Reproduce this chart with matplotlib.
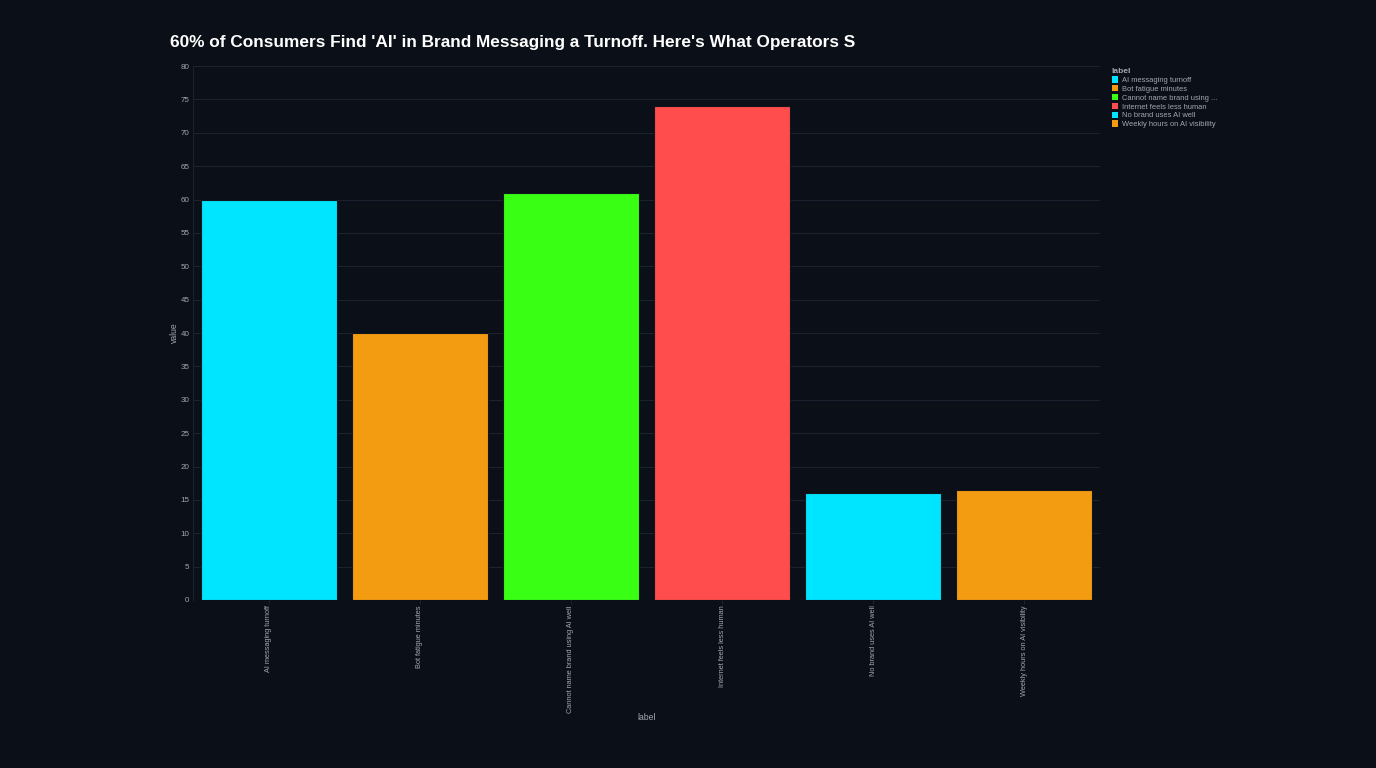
import matplotlib.pyplot as plt
from matplotlib.patches import Patch

plt.rcParams['font.family'] = ['Liberation Sans', 'DejaVu Sans']

labels = ["AI messaging turnoff", "Bot fatigue minutes", "Cannot name brand using AI well",
          "Internet feels less human", "No brand uses AI well", "Weekly hours on AI visibility"]
legend_labels = ["AI messaging turnoff", "Bot fatigue minutes", "Cannot name brand using ...",
                 "Internet feels less human", "No brand uses AI well", "Weekly hours on AI visibility"]
values = [60, 40, 61, 74, 16, 16.5]
colors = ["#00e5ff", "#f39c12", "#39ff14", "#ff4d4d", "#00e5ff", "#f39c12"]

BG = "#0b0f17"
GRID = "#1c2230"
TXT = "#a3a7b0"

fig = plt.figure(figsize=(13.76, 7.68), dpi=100, facecolor=BG)
ax = fig.add_axes([0.1403, 0.21875, 0.6591, 0.6953])
ax.set_facecolor(BG)

x = range(len(labels))
ax.bar(x, values, width=0.9, color=colors, edgecolor="#11151d", linewidth=0.8, zorder=3)

ax.set_xlim(-0.5, len(labels) - 0.5)
ax.set_ylim(0, 80)
ax.set_yticks(range(0, 81, 5))
ax.set_xticks(list(x))
ax.set_xticklabels(labels, rotation=90, fontsize=5.3, color=TXT)
ax.tick_params(axis="y", labelsize=5.8, colors=TXT, length=0, pad=2.5)
ax.tick_params(axis="x", colors=TXT, length=3, color=GRID, pad=1)
ax.grid(axis="y", color=GRID, linewidth=0.8, zorder=0)
for s in ["top", "right", "bottom"]:
    ax.spines[s].set_visible(False)
ax.spines["left"].set_color(GRID)

ax.set_xlabel("label", color=TXT, fontsize=6.2, labelpad=0)
ax.set_ylabel("value", color=TXT, fontsize=6.2, labelpad=1)

fig.text(0.1235, 0.945, "60% of Consumers Find 'AI' in Brand Messaging a Turnoff. Here's What Operators S",
         color="white", fontsize=12.4, fontweight="bold", va="center")

handles = [Patch(facecolor=c, edgecolor="none") for c in colors]
leg = fig.legend(handles, legend_labels, title="label", loc="upper left",
                 bbox_to_anchor=(0.804, 0.918), frameon=False, fontsize=5.4,
                 title_fontsize=6, handlelength=0.9, handleheight=0.9,
                 handletextpad=0.5, labelspacing=0.15, borderpad=0.2)
leg.get_title().set_color(TXT)
leg.get_title().set_fontweight("bold")
leg._legend_box.align = "left"
for t in leg.get_texts():
    t.set_color(TXT)

fig.savefig("out.png", facecolor=BG)
